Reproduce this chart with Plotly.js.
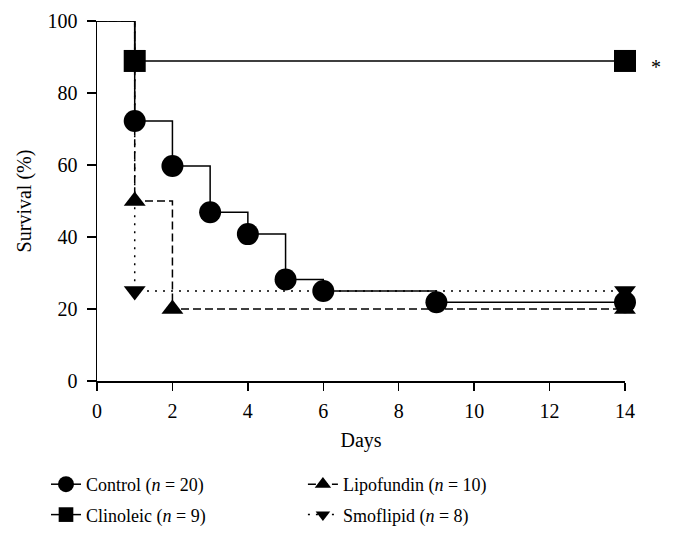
<!DOCTYPE html>
<html>
<head>
<meta charset="utf-8">
<script src="https://cdn.plot.ly/plotly-3.0.1.min.js"></script>
<style>html,body{margin:0;padding:0;background:#fff;}#chart{width:675px;height:542px;}</style>
</head>
<body>
<div id="chart"></div>
<script>
// Data (days, survival %)
const controlDays = [0, 1, 2, 3, 4, 5, 6, 9, 14];
const controlSurv = [100, 72.2, 59.7, 46.9, 40.8, 28.2, 25.0, 21.9, 21.9];
const clinoleicDays = [0, 1, 14];
const clinoleicSurv = [100, 88.9, 88.9];
const lipofundinDays = [0, 1, 2, 14];
const lipofundinSurv = [100, 50, 20, 20];
const smoflipidDays = [0, 1, 14];
const smoflipidSurv = [100, 25, 25];
const seriesNames = ['Control (<i>n</i> = 20)', 'Clinoleic (<i>n</i> = 9)', 'Lipofundin (<i>n</i> = 10)', 'Smoflipid (<i>n</i> = 8)'];
const xTicks = [0, 2, 4, 6, 8, 10, 12, 14];
const yTicks = [0, 20, 40, 60, 80, 100];

const FONT = 'Liberation Serif, Times New Roman, serif';
function sizes(n, s) { const a = []; for (let i = 0; i < n; i++) a.push(i === 0 ? 0 : s); return a; }

const traces = [
  {x: smoflipidDays, y: smoflipidSurv, name: seriesNames[3], legend: 'legend2', legendgroup: 's', legendrank: 2, mode: 'lines+markers',
   line: {shape: 'hv', color: '#000', width: 1.5, dash: '2px,6px'},
   marker: {symbol: 'triangle-down', color: '#000', opacity: 1, size: sizes(smoflipidDays.length, 19), line: {width: 0}}, cliponaxis: false},
  {x: lipofundinDays, y: lipofundinSurv, name: seriesNames[2], legend: 'legend2', legendgroup: 'l', legendrank: 1, mode: 'lines+markers',
   line: {shape: 'hv', color: '#000', width: 1.5, dash: '8px,4px'},
   marker: {symbol: 'triangle-up', color: '#000', opacity: 1, size: sizes(lipofundinDays.length, 19), line: {width: 0}}, cliponaxis: false},
  {x: clinoleicDays, y: clinoleicSurv, name: seriesNames[1], legend: 'legend', legendgroup: 'k', legendrank: 2, mode: 'lines+markers',
   line: {shape: 'hv', color: '#000', width: 1.5},
   marker: {symbol: 'square', color: '#000', opacity: 1, size: sizes(clinoleicDays.length, 22), line: {width: 0}}, cliponaxis: false},
  {x: controlDays, y: controlSurv, name: seriesNames[0], legend: 'legend', legendgroup: 'c', legendrank: 1, mode: 'lines+markers',
   line: {shape: 'hv', color: '#000', width: 1.5},
   marker: {symbol: 'circle', color: '#000', opacity: 1, size: sizes(controlDays.length, 22), line: {width: 0}}, cliponaxis: false}
];

const legendCommon = {orientation: 'v', yanchor: 'top', xanchor: 'left', yref: 'container', xref: 'paper',
  traceorder: 'grouped', tracegroupgap: 4,
  font: {family: FONT, size: 18, color: '#000'}, bgcolor: 'rgba(0,0,0,0)', itemclick: false};

const layout = {
  width: 675, height: 542,
  margin: {l: 97, r: 50, t: 21, b: 161},
  paper_bgcolor: '#fff', plot_bgcolor: '#fff',
  font: {family: FONT, size: 20, color: '#000'},
  showlegend: true,
  legend: Object.assign({}, legendCommon, {x: -0.0966, y: 1 - 466 / 542}),
  legend2: Object.assign({}, legendCommon, {x: 0.390, y: 1 - 466 / 542}),
  xaxis: {range: [0, 14], tickvals: xTicks, ticktext: xTicks.map(String), showline: true, linecolor: '#000', linewidth: 1.5,
          ticks: 'outside', ticklen: 8, tickwidth: 1.5, tickcolor: '#000', showgrid: false, zeroline: false,
          ticklabelstandoff: 3, tickfont: {family: FONT, size: 20},
          title: {text: 'Days', font: {family: FONT, size: 20}, standoff: 12}},
  yaxis: {range: [0, 100], tickvals: yTicks, ticktext: yTicks.map(String), showline: true, linecolor: '#000', linewidth: 1.5,
          ticks: 'outside', ticklen: 9, tickwidth: 1.5, tickcolor: '#000', showgrid: false, zeroline: false,
          ticklabelstandoff: 5, tickfont: {family: FONT, size: 20},
          title: {text: 'Survival (%)', font: {family: FONT, size: 20}, standoff: 10}},
  annotations: [{x: 14, y: clinoleicSurv[clinoleicSurv.length - 1], xref: 'x', yref: 'y', text: '*', showarrow: false,
                 xshift: 31, yshift: -6, font: {family: FONT, size: 20, color: '#000'}}]
};

Plotly.newPlot('chart', traces, layout, {displayModeBar: false, staticPlot: true});
</script>
</body>
</html>
